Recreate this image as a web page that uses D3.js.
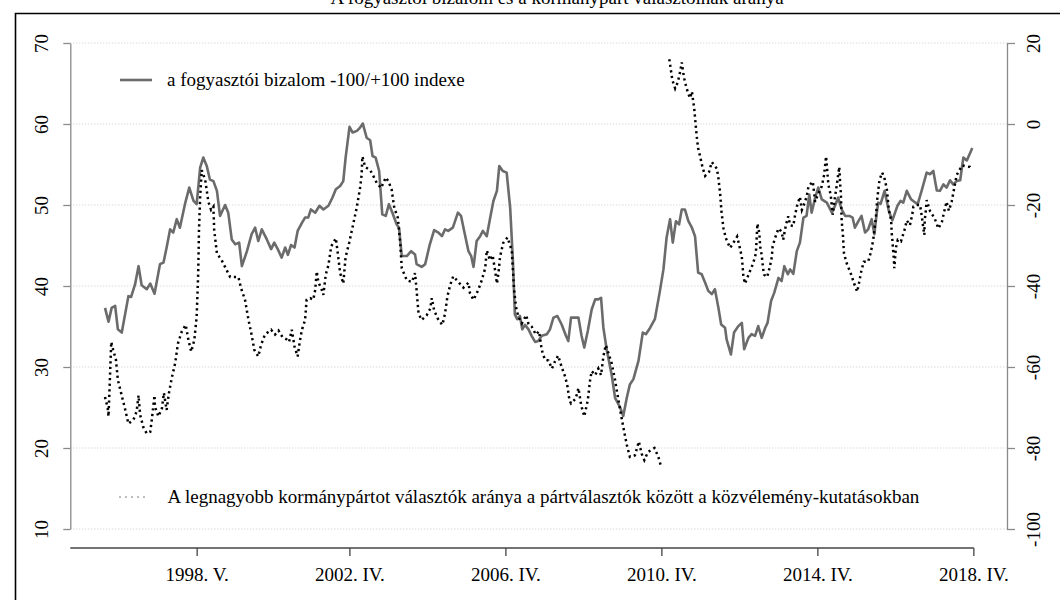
<!DOCTYPE html>
<html>
<head>
<meta charset="utf-8">
<script src="https://cdn.jsdelivr.net/npm/d3@7"></script>
<style>
  body { margin: 0; background: #fff; }
  svg { display: block; font-family: "Liberation Serif", "Times New Roman", serif; }
</style>
</head>
<body>
<svg id="chart" width="1060" height="600"></svg>
<script>
// fogyasztói bizalom (jobb tengely, -100/+100 index)
const bizalomDates = [1995.97,1996.06,1996.14,1996.23,1996.30,1996.40,1996.57,1996.64,1996.74,1996.83,1996.91,1997.04,1997.13,1997.24,1997.38,1997.47,1997.55,1997.64,1997.72,1997.81,1997.89,1998.02,1998.13,1998.24,1998.32,1998.41,1998.49,1998.58,1998.66,1998.75,1998.84,1998.92,1999.05,1999.13,1999.22,1999.31,1999.41,1999.48,1999.61,1999.73,1999.82,1999.90,1999.99,2000.12,2000.23,2000.31,2000.40,2000.50,2000.59,2000.66,2000.74,2000.83,2000.91,2001.02,2001.10,2001.18,2001.25,2001.36,2001.47,2001.57,2001.70,2001.80,2001.89,2002.00,2002.08,2002.14,2002.24,2002.32,2002.43,2002.51,2002.58,2002.68,2002.77,2002.83,2002.91,2003.00,2003.08,2003.17,2003.25,2003.34,2003.45,2003.51,2003.58,2003.71,2003.82,2003.92,2003.96,2004.09,2004.18,2004.30,2004.41,2004.52,2004.61,2004.69,2004.77,2004.89,2005.02,2005.10,2005.18,2005.29,2005.36,2005.42,2005.50,2005.59,2005.66,2005.76,2005.84,2005.93,2006.02,2006.08,2006.17,2006.27,2006.36,2006.43,2006.48,2006.54,2006.61,2006.67,2006.74,2006.83,2006.91,2007.00,2007.08,2007.17,2007.30,2007.38,2007.47,2007.57,2007.68,2007.79,2007.85,2007.92,2008.02,2008.11,2008.19,2008.26,2008.35,2008.45,2008.54,2008.62,2008.69,2008.75,2008.84,2008.96,2009.05,2009.18,2009.26,2009.35,2009.43,2009.52,2009.65,2009.76,2009.84,2009.95,2010.07,2010.20,2010.29,2010.37,2010.46,2010.53,2010.61,2010.69,2010.76,2010.84,2010.93,2011.02,2011.10,2011.18,2011.27,2011.36,2011.44,2011.53,2011.61,2011.70,2011.77,2011.87,2011.91,2012.02,2012.10,2012.21,2012.30,2012.36,2012.47,2012.55,2012.64,2012.72,2012.81,2012.90,2012.96,2013.05,2013.13,2013.24,2013.32,2013.39,2013.48,2013.54,2013.62,2013.71,2013.79,2013.88,2013.96,2014.03,2014.09,2014.18,2014.26,2014.35,2014.48,2014.61,2014.69,2014.77,2014.86,2014.95,2015.06,2015.14,2015.20,2015.29,2015.37,2015.46,2015.54,2015.63,2015.70,2015.76,2015.80,2015.86,2015.96,2016.07,2016.16,2016.29,2016.37,2016.44,2016.53,2016.64,2016.72,2016.81,2016.91,2017.04,2017.13,2017.21,2017.30,2017.38,2017.47,2017.55,2017.64,2017.72,2017.81,2017.90,2017.98,2018.07,2018.21];
const bizalomValues = [-45.4,-48.8,-45.4,-44.9,-50.7,-51.5,-42.5,-42.7,-39.6,-35.1,-39.8,-40.8,-39.4,-41.9,-34.6,-34.2,-30.5,-26.0,-26.8,-23.5,-25.6,-19.8,-15.7,-19.0,-19.8,-10.8,-8.3,-10.4,-13.7,-14.1,-16.5,-22.7,-20.0,-21.9,-28.5,-29.7,-29.3,-35.1,-31.4,-27.2,-25.6,-28.9,-26.0,-28.5,-30.9,-29.3,-30.9,-33.0,-30.5,-32.3,-29.9,-30.5,-26.4,-24.4,-23.1,-23.1,-21.1,-21.9,-20.2,-21.1,-20.2,-18.2,-16.1,-15.3,-14.1,-8.3,-0.7,-2.1,-1.7,-0.9,0.1,-3.4,-4.0,-7.9,-8.3,-11.6,-22.3,-22.7,-19.8,-21.9,-24.8,-25.6,-32.6,-32.6,-31.4,-32.2,-34.6,-35.3,-34.6,-29.7,-26.2,-26.8,-27.7,-26.0,-26.4,-25.6,-21.9,-22.7,-26.4,-31.4,-32.6,-35.3,-28.9,-27.7,-26.4,-27.7,-23.5,-19.0,-16.5,-10.4,-11.6,-12.0,-20.7,-33.8,-47.0,-48.2,-47.4,-50.7,-49.6,-50.7,-52.3,-53.8,-53.6,-52.3,-51.9,-50.7,-47.8,-47.4,-49.5,-52.3,-53.6,-47.8,-47.8,-47.8,-52.3,-55.2,-51.1,-45.8,-43.3,-43.3,-42.9,-50.3,-56.0,-61.8,-67.6,-70.0,-72.1,-67.6,-64.3,-63.0,-58.5,-51.5,-51.9,-50.3,-48.2,-41.2,-35.9,-28.1,-23.5,-29.3,-24.0,-24.8,-21.1,-21.1,-24.0,-25.6,-27.7,-36.7,-37.1,-39.2,-41.2,-42.0,-40.8,-45.4,-49.5,-50.3,-53.2,-56.9,-51.5,-49.9,-49.1,-55.6,-52.8,-51.9,-52.3,-49.9,-52.8,-50.3,-49.1,-43.7,-41.7,-38.0,-38.8,-35.1,-37.1,-35.9,-37.0,-31.4,-29.3,-23.1,-22.7,-17.4,-21.9,-18.2,-15.7,-18.6,-19.4,-21.9,-20.2,-18.2,-21.1,-22.7,-22.7,-23.1,-25.6,-24.0,-22.7,-26.8,-26.0,-23.5,-27.2,-21.9,-19.4,-19.7,-16.5,-21.5,-23.8,-20.2,-19.0,-19.4,-16.5,-18.6,-19.2,-19.8,-16.5,-12.0,-12.4,-11.6,-16.4,-16.5,-14.9,-15.7,-13.9,-14.9,-14.1,-13.9,-8.3,-9.0,-5.9];

// legnagyobb kormánypárt aránya a pártválasztók között, % (bal tengely); null = hiányzó adat
const partDates = [1995.97,1996.04,1996.06,1996.13,1996.18,1996.25,1996.30,1996.48,1996.57,1996.70,1996.78,1996.83,1996.87,1996.95,1997.04,1997.13,1997.17,1997.24,1997.25,1997.34,1997.43,1997.48,1997.55,1997.61,1997.68,1997.77,1997.84,1997.94,1998.04,1998.11,1998.18,1998.26,1998.32,1998.36,1998.38,1998.41,1998.45,1998.54,1998.62,1998.69,1998.75,1998.77,1998.84,1998.96,1999.18,1999.39,1999.46,1999.56,1999.65,1999.72,1999.80,1999.90,1999.97,2000.07,2000.23,2000.33,2000.42,2000.52,2000.63,2000.69,2000.76,2000.83,2000.91,2000.97,2001.02,2001.10,2001.14,2001.23,2001.31,2001.36,2001.40,2001.44,2001.53,2001.57,2001.63,2001.70,2001.77,2001.89,2001.94,2002.00,2002.08,2002.14,2002.23,2002.32,2002.43,2002.51,2002.55,2002.57,2002.64,2002.77,2002.85,2002.94,2003.05,2003.17,2003.24,2003.32,2003.39,2003.48,2003.54,2003.58,2003.71,2003.84,2003.92,2003.96,2004.01,2004.09,2004.22,2004.31,2004.35,2004.41,2004.52,2004.62,2004.69,2004.75,2004.82,2004.90,2005.03,2005.16,2005.29,2005.33,2005.42,2005.54,2005.63,2005.72,2005.76,2005.84,2005.91,2005.97,2006.02,2006.06,2006.10,2006.18,2006.29,2006.40,2006.43,2006.46,2006.51,2006.57,2006.66,2006.77,2006.83,2006.91,2007.02,2007.10,2007.17,2007.25,2007.34,2007.43,2007.51,2007.59,2007.68,2007.77,2007.83,2007.88,2007.92,2008.04,2008.11,2008.18,2008.26,2008.35,2008.41,2008.45,2008.54,2008.62,2008.69,2008.75,2008.81,2008.88,2008.96,2009.05,2009.09,2009.18,2009.26,2009.35,2009.43,2009.56,2009.66,2009.73,2009.80,2009.89,2010.06,2010.16,2010.23,2010.33,2010.44,2010.48,2010.52,2010.59,2010.66,2010.72,2010.76,2010.80,2010.84,2010.91,2010.97,2011.02,2011.08,2011.12,2011.15,2011.18,2011.23,2011.29,2011.36,2011.46,2011.53,2011.66,2011.70,2011.74,2011.78,2011.83,2011.89,2012.00,2012.08,2012.18,2012.24,2012.30,2012.34,2012.38,2012.49,2012.59,2012.66,2012.70,2012.75,2012.77,2012.81,2012.84,2012.87,2012.95,2013.02,2013.07,2013.09,2013.15,2013.24,2013.32,2013.36,2013.43,2013.49,2013.54,2013.62,2013.66,2013.71,2013.79,2013.84,2013.89,2013.96,2014.01,2014.12,2014.18,2014.26,2014.35,2014.41,2014.46,2014.52,2014.58,2014.63,2014.69,2014.73,2014.77,2014.80,2014.82,2014.84,2014.86,2014.89,2014.92,2014.99,2015.09,2015.18,2015.26,2015.31,2015.37,2015.43,2015.54,2015.61,2015.67,2015.74,2015.77,2015.83,2015.90,2015.97,2016.02,2016.07,2016.13,2016.14,2016.16,2016.18,2016.20,2016.21,2016.25,2016.30,2016.38,2016.47,2016.53,2016.61,2016.67,2016.70,2016.78,2016.87,2016.91,2016.95,2016.98,2016.99,2017.02,2017.04,2017.13,2017.24,2017.34,2017.43,2017.49,2017.55,2017.61,2017.68,2017.72,2017.77,2017.81,2017.95,2018.02,2018.15,2018.19];
const partValues = [26.3,24.9,23.9,33.1,32.1,30.9,28.4,24.9,23.0,23.5,24.5,26.5,24.1,22.6,21.8,22.0,23.5,26.5,25.1,23.9,24.9,26.8,24.7,26.8,28.6,30.5,32.9,34.4,35.2,33.3,31.9,33.3,36.2,41.6,46.9,51.0,54.3,53.1,50.4,49.4,49.8,46.9,44.0,43.2,41.1,41.1,39.7,38.3,35.8,34.2,32.1,31.3,32.7,34.0,34.6,34.0,34.5,33.7,33.4,33.1,34.6,32.5,31.3,33.3,34.6,35.8,38.3,38.5,38.3,39.5,41.8,40.5,39.5,38.9,41.4,42.6,44.9,45.9,44.0,41.6,40.3,43.6,45.3,47.3,49.8,52.1,53.7,56.0,54.7,54.3,53.6,52.7,52.1,53.4,52.9,51.9,49.6,48.4,45.3,42.2,40.7,40.5,41.6,39.5,36.6,35.8,36.4,37.2,38.5,37.0,35.8,35.2,36.6,38.7,40.1,41.2,40.5,39.8,40.4,39.1,38.3,39.5,40.7,42.2,44.4,43.2,43.8,42.0,40.3,41.6,43.6,45.3,46.0,44.4,42.0,39.5,37.4,36.2,35.4,36.4,35.3,35.0,34.0,34.4,32.1,30.9,30.8,29.8,30.7,31.4,30.0,28.8,27.6,25.9,25.5,26.1,27.4,25.3,23.9,25.9,28.4,29.5,29.0,29.8,29.0,31.3,32.7,31.7,30.5,28.4,27.2,24.7,22.6,20.4,18.9,19.1,20.8,19.3,18.5,19.5,20.0,18.9,17.7,null,68.0,66.7,65.4,64.4,65.2,66.5,67.6,66.3,65.2,64.0,63.2,64.0,61.9,59.7,58.2,57.0,56.0,54.7,53.6,54.1,55.3,54.5,53.3,51.6,49.1,47.1,45.9,44.7,45.3,46.1,44.9,43.6,41.2,40.3,41.6,42.8,44.0,47.7,46.5,44.9,43.8,42.4,41.4,41.1,42.4,43.6,44.9,45.9,47.1,46.7,45.7,47.5,48.6,47.5,47.4,48.6,49.8,51.0,49.4,50.0,51.0,52.3,52.9,50.4,51.4,52.3,53.7,56.0,52.5,51.2,48.8,51.0,52.3,53.7,54.7,52.7,51.4,48.1,46.5,44.0,42.8,41.6,40.3,39.3,40.5,42.0,43.0,43.0,44.2,45.7,48.6,50.6,53.1,54.0,53.1,51.9,49.4,48.1,46.7,45.7,44.4,43.2,42.2,44.7,45.7,45.5,46.9,48.1,47.5,48.8,49.8,50.0,50.0,48.8,47.3,46.3,48.1,49.4,50.6,49.2,48.4,47.1,47.9,49.2,50.4,49.3,50.4,51.4,52.7,53.7,54.9,54.8,54.7,54.4];

const leftTicks = [10, 20, 30, 40, 50, 60, 70];
const rightTicks = [-100, -80, -60, -40, -20, 0, 20];
const xTickDates = [1998 + 4 / 12, 2002.25, 2006.25, 2010.25, 2014.25, 2018.25];
const xTickLabels = ['1998. V.', '2002. IV.', '2006. IV.', '2010. IV.', '2014. IV.', '2018. IV.'];

const svg = d3.select('#chart');
const font = 19;

const bizalom = bizalomDates.map((t, i) => ({ t: t, v: bizalomValues[i] }));
const part = partDates.map((t, i) => ({ t: t, v: partValues[i] }));

// scales
const x = d3.scaleLinear().domain([1995.08, 2019.1]).range([70.3, 1007]);
const yLeft = d3.scaleLinear().domain([10, 70]).range([529, 43]);
const yRight = d3.scaleLinear().domain([-100, 20]).range([529, 43]);

// frame and the title cut off by the page top
svg.append('rect').attr('width', 1060).attr('height', 600).attr('fill', '#fff');
svg.append('text')
  .attr('x', 557).attr('y', 3.5)
  .attr('text-anchor', 'middle')
  .style('font-size', font + 'px')
  .text('A fogyasztói bizalom és a kormánypárt választóinak aránya');
svg.append('path')
  .attr('d', 'M15.5,600V13.5H1060')
  .attr('fill', 'none').attr('stroke', '#000').attr('stroke-width', 1.6);

// grid
svg.append('g').selectAll('line')
  .data(leftTicks)
  .enter()
  .append('line')
  .attr('x1', x.range()[0]).attr('x2', x.range()[1])
  .attr('y1', d => yLeft(d)).attr('y2', d => yLeft(d))
  .attr('stroke', '#c8c8c8').attr('stroke-width', 1)
  .attr('stroke-dasharray', '1,2');

// left axis
const axL = svg.append('g')
  .attr('transform', 'translate(' + x.range()[0] + ',0)')
  .call(d3.axisLeft(yLeft).tickValues(leftTicks).tickFormat(d => String(d)).tickSize(7).tickSizeOuter(0));
axL.selectAll('text')
  .attr('transform', 'rotate(-90)')
  .attr('x', 0).attr('y', -29).attr('dy', '0.35em')
  .attr('text-anchor', 'middle');

// right axis (plain hyphen as minus, like the original)
const axR = svg.append('g')
  .attr('transform', 'translate(' + x.range()[1] + ',0)')
  .call(d3.axisRight(yRight).tickValues(rightTicks).tickFormat(d => String(d)).tickSize(8).tickSizeOuter(0));
axR.selectAll('text')
  .attr('transform', 'rotate(-90)')
  .attr('x', 0).attr('y', 26).attr('dy', '0.35em')
  .attr('text-anchor', 'middle');

[axL, axR].forEach(ax => {
  ax.select('.domain').attr('stroke', '#8a8a8a').attr('stroke-width', 1.3);
  ax.selectAll('.tick line').attr('stroke', '#8a8a8a').attr('stroke-width', 1.3);
  ax.selectAll('text').style('font-size', font + 'px').style('font-family', 'Liberation Serif, serif').attr('fill', '#000');
});

// bottom axis
const axB = svg.append('g').attr('transform', 'translate(0,548)');
axB.append('line')
  .attr('x1', x.range()[0]).attr('x2', x(xTickDates[xTickDates.length - 1]))
  .attr('stroke', '#444').attr('stroke-width', 1.3);
const xt = axB.selectAll('.xt')
  .data(xTickDates)
  .enter()
  .append('g')
  .attr('class', 'xt')
  .attr('transform', d => 'translate(' + x(d) + ',0)');
xt.append('line').attr('y2', 8).attr('stroke', '#444').attr('stroke-width', 1.3);
xt.append('text')
  .attr('y', 33)
  .attr('text-anchor', 'middle')
  .style('font-size', font + 'px')
  .text((d, i) => xTickLabels[i]);

// series
const lineR = d3.line().x(d => x(d.t)).y(d => yRight(d.v));
const lineL = d3.line().defined(d => d.v != null).x(d => x(d.t)).y(d => yLeft(d.v));

svg.append('path')
  .datum(bizalom)
  .attr('d', lineR)
  .attr('fill', 'none')
  .attr('stroke', '#6b6b6b')
  .attr('stroke-width', 2.6)
  .attr('stroke-linejoin', 'round');

svg.append('path')
  .datum(part)
  .attr('d', lineL)
  .attr('fill', 'none')
  .attr('stroke', '#000')
  .attr('stroke-width', 2.5)
  .attr('stroke-dasharray', '2.2,3.4');

// legends
svg.append('line')
  .attr('x1', 120).attr('x2', 152).attr('y1', 80).attr('y2', 80)
  .attr('stroke', '#6b6b6b').attr('stroke-width', 2.6);
svg.append('text')
  .attr('x', 167).attr('y', 80).attr('dy', '0.33em')
  .style('font-size', font + 'px')
  .text('a fogyasztói bizalom -100/+100 indexe');

svg.append('line')
  .attr('x1', 119).attr('x2', 147).attr('y1', 497).attr('y2', 497)
  .attr('stroke', '#bdbdbd').attr('stroke-width', 2)
  .attr('stroke-dasharray', '2,4');
svg.append('text')
  .attr('x', 167.5).attr('y', 497).attr('dy', '0.33em')
  .style('font-size', font + 'px')
  .text('A legnagyobb kormánypártot választók aránya a pártválasztók között a közvélemény-kutatásokban');
</script>
</body>
</html>
